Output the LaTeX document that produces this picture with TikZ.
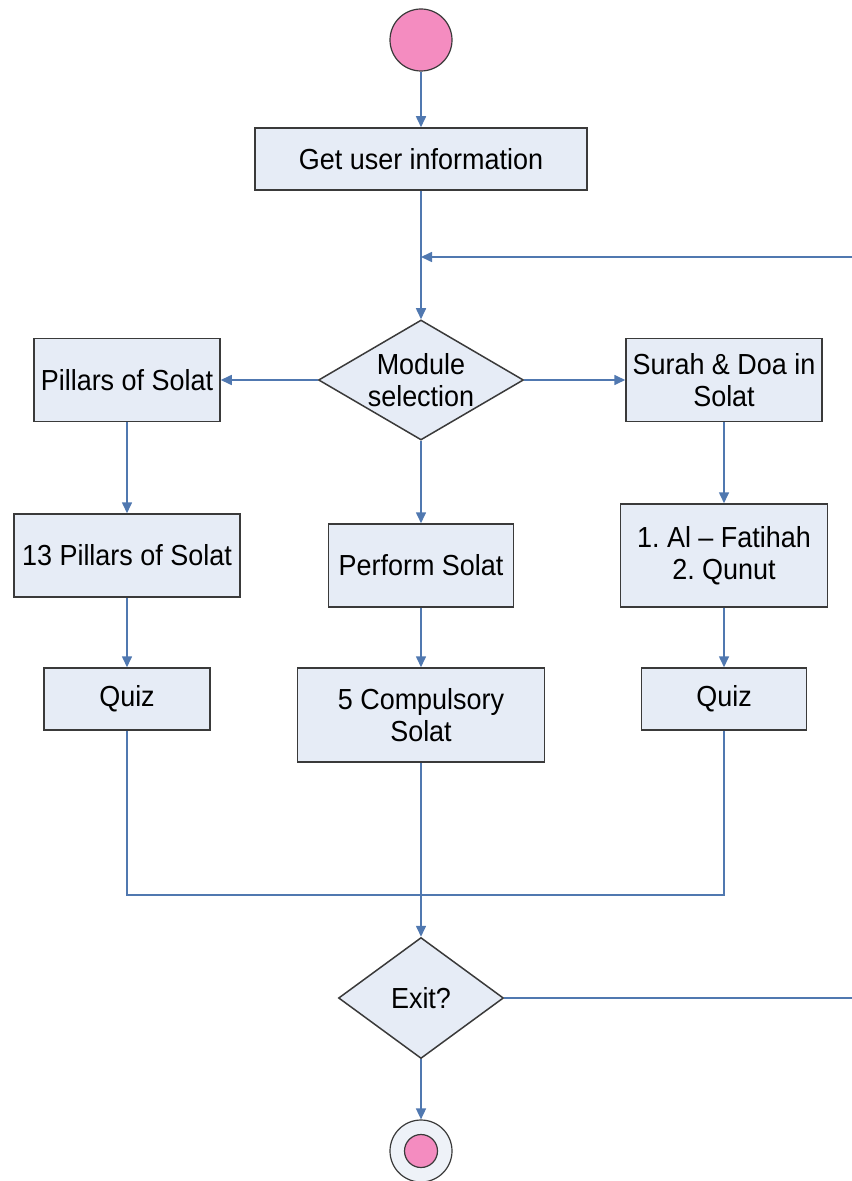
\documentclass[tikz,border=0pt]{standalone}
\usepackage{fontspec}
\setmainfont{Liberation Sans}[FakeStretch=0.93]
\usetikzlibrary{arrows.meta, shapes.geometric, positioning}
\definecolor{boxfill}{HTML}{E6ECF6}
\definecolor{edge}{HTML}{3A3A3A}
\definecolor{flow}{HTML}{5078B0}
\definecolor{pink}{HTML}{F48CC0}
\definecolor{ringfill}{HTML}{EEF2F8}
\frenchspacing

\begin{document}
\begin{tikzpicture}[
        x=0.5pt, y=-0.5pt,
        box/.style={draw=edge, line width=0.75pt, fill=boxfill, align=center,
                     inner sep=2pt, font=\fontsize{14.5}{16}\selectfont},
        decision/.style={diamond, draw=edge, line width=0.75pt, fill=boxfill,
                     align=center, inner sep=-3pt, font=\fontsize{14.5}{16}\selectfont},
        arr/.style={-{Triangle[length=5.5pt, width=5pt]}, line width=0.8pt, flow},
        link/.style={line width=0.8pt, flow},
        dot/.style={circle, draw=edge, line width=0.6pt, fill=pink, inner sep=0pt}
      ]
      \useasboundingbox (0,0) rectangle (851,1181);

      % ── Start und Eingabe ──
      \node[dot, minimum size=31pt]                           (start) at (421,40) {};
      \node[box, minimum width=166pt, minimum height=31pt]    (info)  at (421,159) {Get user information};
      \node[decision, aspect=1.7, minimum width=102.5pt,
            minimum height=60pt]                              (mod)   at (421,380) {Module\\selection};

      % ── Module ──
      \node[box, minimum width=93pt, minimum height=41.5pt]   (pil)   at (127,380) {Pillars of Solat};
      \node[box, minimum width=98pt, minimum height=41.5pt]   (sur)   at (724,380) {Surah \& Doa in\\Solat};

      \node[box, minimum width=113pt, minimum height=41.5pt]  (pil13) at (127,555.5) {13 Pillars of Solat};
      \node[box, minimum width=92.5pt, minimum height=41.5pt] (perf)  at (421,565.5) {Perform Solat};
      \node[box, minimum width=103.5pt, minimum height=51.5pt](fat)   at (724,555.5) {1. Al -- Fatihah\\2. Qunut};

      \node[box, minimum width=83pt, minimum height=31pt]     (quizl) at (127,699) {Quiz};
      \node[box, minimum width=123.5pt, minimum height=47pt]  (comp)  at (421,715) {5 Compulsory\\Solat};
      \node[box, minimum width=82.5pt, minimum height=31pt]   (quizr) at (724,699) {Quiz};

      % ── Ende ──
      \node[decision, aspect=1.36, minimum width=82.5pt,
            minimum height=60.5pt]                            (exit)  at (421,998) {Exit?};
      \node[circle, draw=edge, line width=0.6pt, fill=ringfill,
            minimum size=31pt, inner sep=0pt]                 (stop)  at (421,1151) {};
      \node[dot, minimum size=16.5pt]                         (stopin) at (stop) {};

      \coordinate (loop) at (421,257);
      \coordinate (rt)   at (855,257);
      \coordinate (join) at (421,895);

      % ── Pfeile ──
      \draw[arr] (start.south) -- (info.north);
      \draw[arr] (info.south) -- (mod.north);
      \draw[arr] (mod.west) -- (pil.east);
      \draw[arr] (mod.east) -- (sur.west);

      \foreach \a/\b in {pil/pil13, mod/perf, sur/fat, pil13/quizl, perf/comp, fat/quizr, comp/exit, exit/stop}
        \draw[arr] (\a.south) -- (\b.north);

      % ── Zusammenführung und Rücksprung ──
      \draw[link] (quizl.south) |- (join) -| (quizr.south);
      \draw[arr] (exit.east) -| (rt) -- (loop);
    \end{tikzpicture}
\end{document}
